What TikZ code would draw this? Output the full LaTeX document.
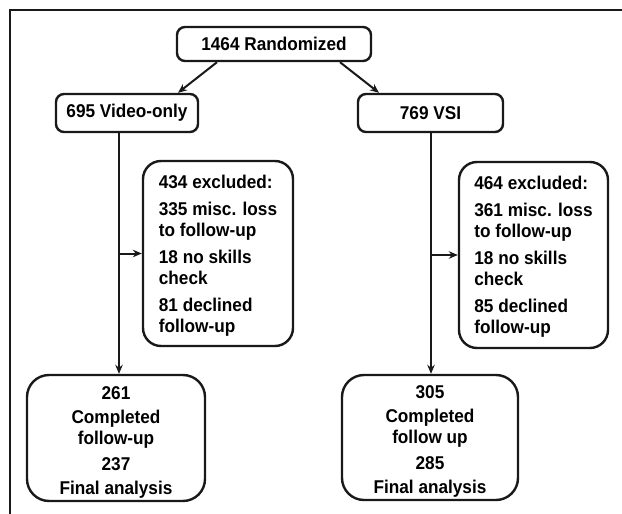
\documentclass[tikz,border=0pt]{standalone}
\usepackage{fontspec}
\setmainfont{Liberation Sans}[FakeStretch=0.93]
\usetikzlibrary{arrows.meta,calc}
\begin{document}
\begin{tikzpicture}[x=1pt,y=-1pt,
  box/.style={draw=black!90, line width=2.4pt, rounded corners=8pt, align=center,
    font=\fontsize{18.5}{21}\selectfont\bfseries, inner sep=0pt},
  bigbox/.style={box, rounded corners=18pt},
  arr/.style={line width=2pt, draw=black!90, -{Stealth[length=9pt,width=7.5pt]}},
  frame/.style={line width=2pt, draw=black!90}]
\useasboundingbox (0,0) rectangle (622,514);
\draw[frame] (10,514) -- (10,10) -- (622,10);

\node[box, minimum width=194, minimum height=34] (rand) at (274,44) {1464 Randomized};
\node[box, minimum width=142, minimum height=38] (vid) at (127,113) {695 Video-only};
\node[box, minimum width=145, minimum height=38] (vsi) at (430.5,113) {769 VSI};

\node[bigbox, minimum width=150, minimum height=185, align=left] (exL) at (218,253.5)
  {\rule{0pt}{17pt}434 excluded:\\[6pt]335 misc. loss\\to follow-up\\[6pt]18 no skills\\check\\[6pt]81 declined\\follow-up};
\node[bigbox, minimum width=149, minimum height=186, align=left] (exR) at (533.5,255)
  {\rule{0pt}{17pt}464 excluded:\\[6pt]361 misc. loss\\to follow-up\\[6pt]18 no skills\\check\\[6pt]85 declined\\follow-up};

\node[bigbox, rounded corners=22pt, minimum width=178, minimum height=126] (finL) at (116,438)
  {\rule{0pt}{22pt}261\\[3pt]Completed\\follow-up\\[5pt]237\\[3pt]Final analysis};
\node[bigbox, rounded corners=22pt, minimum width=176, minimum height=125] (finR) at (430,437.5)
  {\rule{0pt}{20pt}305\\[3pt]Completed\\follow up\\[5pt]285\\[3pt]Final analysis};

\draw[arr] (217,0 |- rand.south) -- (178,0 |- vid.north);
\draw[arr] (340,0 |- rand.south) -- (379,0 |- vsi.north);

\coordinate (lx) at (119,0);
\coordinate (rx) at (431,0);
\draw[arr] (lx |- vid.south) -- (lx |- finL.north);
\draw[arr] (rx |- vsi.south) -- (rx |- finR.north);
\draw[arr] (lx |- exL.west) -- (exL.west);
\draw[arr] (rx |- exR.west) -- (exR.west);
\end{tikzpicture}
\end{document}
